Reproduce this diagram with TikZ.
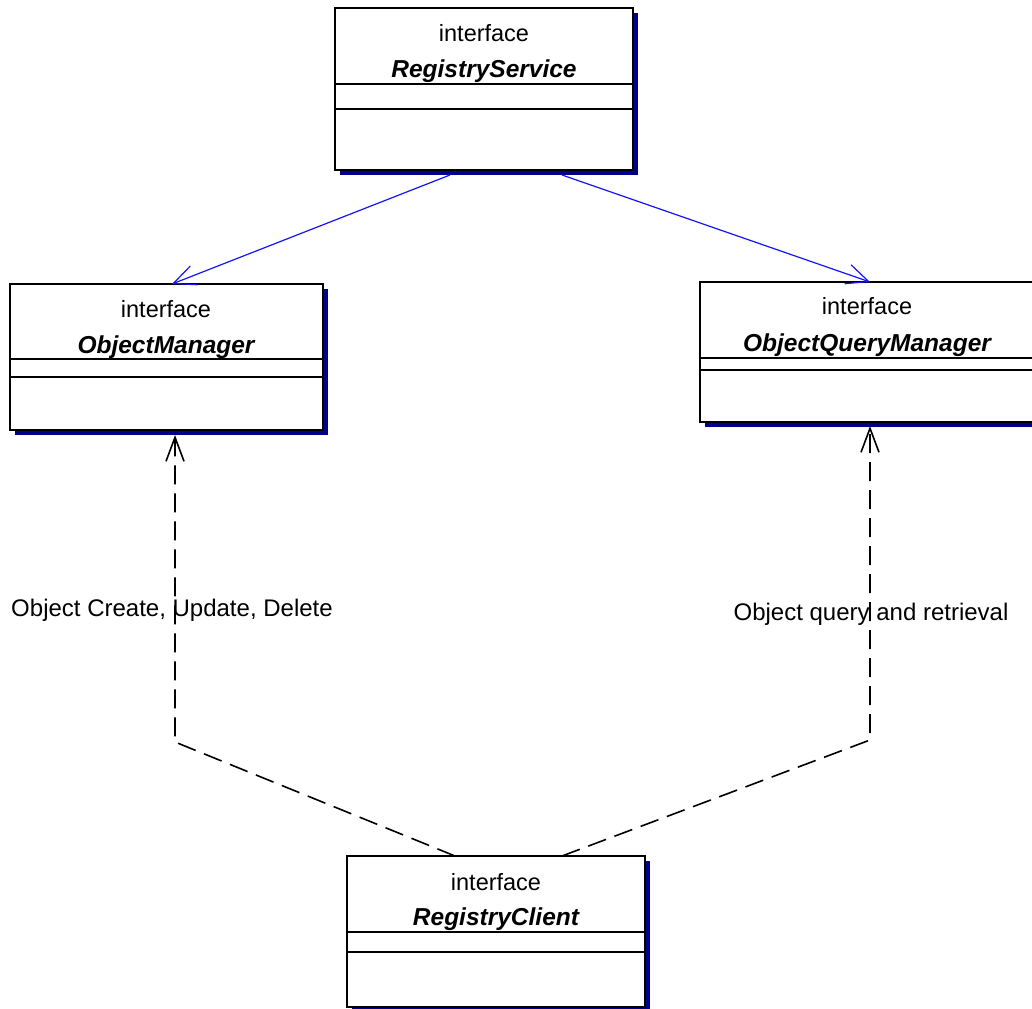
\documentclass[tikz,border=0pt]{standalone}
\usepackage{fontspec}
\setmainfont{Liberation Sans}
\usetikzlibrary{arrows.meta,shadows}
\definecolor{shadowblue}{RGB}{0,0,140}
\definecolor{assocblue}{RGB}{20,20,255}
\tikzset{
  umlbox/.style={draw=black, line width=1.8pt, fill=white, rectangle, inner sep=0pt,
    drop shadow={shadow xshift=5pt, shadow yshift=-5pt, fill=shadowblue, opacity=1}},
  divider/.style={draw=black, line width=1.6pt},
  stereo/.style={font=\fontsize{23.5}{26}\selectfont, inner sep=0pt},
  iname/.style={font=\fontsize{24.5}{27}\selectfont\bfseries\itshape, inner sep=0pt},
  lbl/.style={font=\fontsize{24}{27}\selectfont, inner sep=0pt},
  assoc/.style={draw=assocblue, line width=1.2pt, -{Straight Barb[length=22pt,width=20pt,line width=1.2pt]}},
  depend/.style={draw=black, line width=1.6pt, dash pattern=on 19pt off 9pt,
    -{Straight Barb[length=24pt,width=18pt,line width=1.6pt]}}
}
\begin{document}
\begin{tikzpicture}[x=1pt,y=-1pt]
\useasboundingbox (0,0) rectangle (1032,1008);
\clip (0,0) rectangle (1032,1008);
\fill[white] (0,0) rectangle (1032,1008);

% RegistryService
\node[umlbox, minimum width=298pt, minimum height=162pt] (RS) at (484,89) {};
\draw[divider] (335,84) -- (633,84);
\draw[divider] (335,109) -- (633,109);
\node[stereo] (RSst) at (484,33) {interface};
\node[iname] (RSnm) at (484,71) {RegistryService};

% ObjectManager
\node[umlbox, minimum width=313pt, minimum height=146pt] (OM) at (166.5,357) {};
\draw[divider] (10,359) -- (323,359);
\draw[divider] (10,377) -- (323,377);
\node[stereo] (OMst) at (166,309) {interface};
\node[iname] (OMnm) at (166,347) {ObjectManager};

% ObjectQueryManager
\node[umlbox, minimum width=340pt, minimum height=140pt] (OQM) at (870,352) {};
\draw[divider] (700,358) -- (1040,358);
\draw[divider] (700,370) -- (1040,370);
\node[stereo] (OQMst) at (867,306) {interface};
\node[iname] (OQMnm) at (867,345) {ObjectQueryManager};

% RegistryClient
\node[umlbox, minimum width=298pt, minimum height=151pt] (RC) at (496,931.5) {};
\draw[divider] (347,932) -- (645,932);
\draw[divider] (347,952) -- (645,952);
\node[stereo] (RCst) at (496,882) {interface};
\node[iname] (RCnm) at (496,919) {RegistryClient};

% connector end points
\coordinate (rsL) at (450,175);
\coordinate (rsR) at (562,175);
\coordinate (omTop) at (172,284);
\coordinate (oqmTop) at (870,282);
\coordinate (rcL) at (455,856);
\coordinate (rcR) at (562,856);
\coordinate (bendL) at (175,742);
\coordinate (bendR) at (870,740);
\coordinate (omBot) at (175,435);
\coordinate (oqmBot) at (870,426);

% associations
\draw[assoc] (rsL) -- (omTop);
\draw[assoc] (rsR) -- (oqmTop);

% dependencies
\draw[depend] (rcL) -- (bendL) -- (omBot);
\draw[depend] (rcR) -- (bendR) -- (oqmBot);

% labels
\node[lbl] (lblL) at (172,610) {Object Create, Update, Delete};
\node[lbl] (lblR) at (871,614) {Object query and retrieval};
\end{tikzpicture}
\end{document}
